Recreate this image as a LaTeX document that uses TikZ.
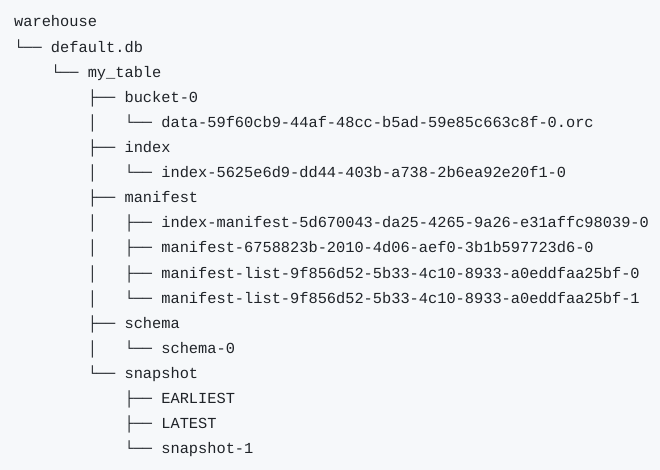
\documentclass[tikz,border=0pt]{standalone}
\usepackage{fontspec}
\newfontfamily\treefont{Liberation Mono}
\definecolor{bg}{HTML}{F6F8FA}
\definecolor{ink}{HTML}{1F2328}
\tikzset{row/.style={anchor=base west, inner sep=0pt, text=ink, font=\treefont\fontsize{15.33}{18}\selectfont}}
\begin{document}
\begin{tikzpicture}[x=1pt,y=-1pt]
\fill[bg] (0,0) rectangle (660,470);
\useasboundingbox (0,0) rectangle (660,470);
\def\cw{9.2}
\def\ls{25.1}
\node[row] (l1)  at (14,27) {warehouse};
\node[row] (l2)  at (14,27+\ls) {└──~default.db};
\node[row] (l3)  at (14+4*\cw,27+2*\ls) {└──~my\_table};
\node[row] (l4)  at (14+8*\cw,27+3*\ls) {├──~bucket-0};
\node[row] (l5)  at (14+8*\cw,27+4*\ls) {│~~~└──~data-59f60cb9-44af-48cc-b5ad-59e85c663c8f-0.orc};
\node[row] (l6)  at (14+8*\cw,27+5*\ls) {├──~index};
\node[row] (l7)  at (14+8*\cw,27+6*\ls) {│~~~└──~index-5625e6d9-dd44-403b-a738-2b6ea92e20f1-0};
\node[row] (l8)  at (14+8*\cw,27+7*\ls) {├──~manifest};
\node[row] (l9)  at (14+8*\cw,27+8*\ls) {│~~~├──~index-manifest-5d670043-da25-4265-9a26-e31affc98039-0};
\node[row] (l10) at (14+8*\cw,27+9*\ls) {│~~~├──~manifest-6758823b-2010-4d06-aef0-3b1b597723d6-0};
\node[row] (l11) at (14+8*\cw,27+10*\ls) {│~~~├──~manifest-list-9f856d52-5b33-4c10-8933-a0eddfaa25bf-0};
\node[row] (l12) at (14+8*\cw,27+11*\ls) {│~~~└──~manifest-list-9f856d52-5b33-4c10-8933-a0eddfaa25bf-1};
\node[row] (l13) at (14+8*\cw,27+12*\ls) {├──~schema};
\node[row] (l14) at (14+8*\cw,27+13*\ls) {│~~~└──~schema-0};
\node[row] (l15) at (14+8*\cw,27+14*\ls) {└──~snapshot};
\node[row] (l16) at (14+12*\cw,27+15*\ls) {├──~EARLIEST};
\node[row] (l17) at (14+12*\cw,27+16*\ls) {├──~LATEST};
\node[row] (l18) at (14+12*\cw,27+17*\ls) {└──~snapshot-1};
\end{tikzpicture}
\end{document}
